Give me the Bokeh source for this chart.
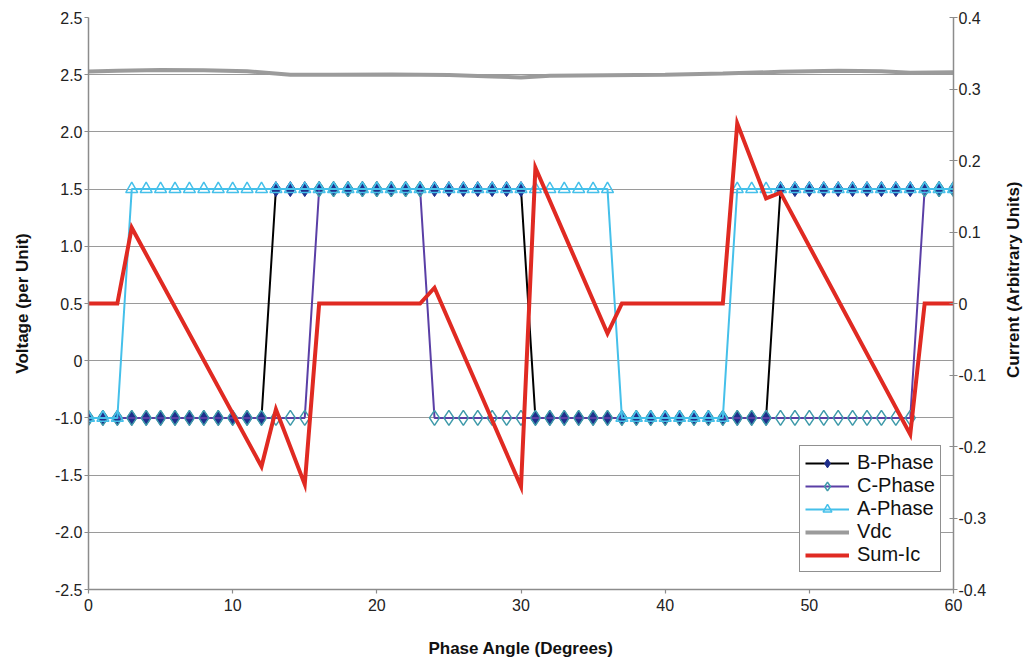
import math
from bokeh.plotting import figure
from bokeh.layouts import row
from bokeh.models import (Range1d, LinearAxis, FixedTicker, Legend, LegendItem, Label)
from bokeh.embed import file_html
from bokeh.resources import INLINE

# ---------------- data ----------------
angle = list(range(61))  # degrees

B_phase = [-1, -1, -1, -1, -1, -1, -1, -1, -1, -1,
           -1, -1, -1, 1, 1, 1, 1, 1, 1, 1,
           1, 1, 1, 1, 1, 1, 1, 1, 1, 1,
           1, -1, -1, -1, -1, -1, -1, -1, -1, -1,
           -1, -1, -1, -1, -1, -1, -1, -1, 1, 1,
           1, 1, 1, 1, 1, 1, 1, 1, 1, 1,
           1]
C_phase = [-1, -1, -1, -1, -1, -1, -1, -1, -1, -1,
           -1, -1, -1, -1, -1, -1, 1, 1, 1, 1,
           1, 1, 1, 1, -1, -1, -1, -1, -1, -1,
           -1, -1, -1, -1, -1, -1, -1, -1, -1, -1,
           -1, -1, -1, -1, -1, -1, -1, -1, -1, -1,
           -1, -1, -1, -1, -1, -1, -1, -1, 1, 1,
           1]
A_phase = [-1, -1, -1, 1, 1, 1, 1, 1, 1, 1,
           1, 1, 1, 1, 1, 1, 1, 1, 1, 1,
           1, 1, 1, 1, 1, 1, 1, 1, 1, 1,
           1, 1, 1, 1, 1, 1, 1, -1, -1, -1,
           -1, -1, -1, -1, -1, 1, 1, 1, 1, 1,
           1, 1, 1, 1, 1, 1, 1, 1, 1, 1,
           1]

vdc_angle = [0, 2, 5, 8, 11, 14, 17, 21, 25, 28, 30, 32, 36, 40, 44, 48, 52, 55, 57, 60]
vdc = [2.028, 2.035, 2.040, 2.038, 2.030, 2.000, 2.000, 2.002, 1.998, 1.985,
       1.976, 1.990, 1.995, 2.000, 2.010, 2.025, 2.034, 2.030, 2.017, 2.022]

ic_angle = [0, 2, 3, 12, 13, 15, 16, 23, 24, 30, 31, 36, 37, 44, 45, 47, 48, 57, 58, 60]
sum_ic = [0, 0, 0.106, -0.228, -0.148, -0.253, 0, 0, 0.022, -0.256,
          0.19, -0.042, 0, 0, 0.252, 0.147, 0.155, -0.183, 0, 0]

x_ticks = [0, 10, 20, 30, 40, 50, 60]
v_ticks = [-2.5, -2.0, -1.5, -1.0, -0.5, 0.0, 0.5, 1.0, 1.5, 2.0, 2.5]
v_tick_labels = ["-2.5", "-2.0", "-1.5", "-1.0", "0", "0.5", "1.0", "1.5", "2.0", "2.5", "2.5"]
i_ticks = [-0.4, -0.3, -0.2, -0.1, 0.0, 0.1, 0.2, 0.3, 0.4]
i_tick_labels = ["-0.4", "-0.3", "-0.2", "-0.1", "0", "0.1", "0.2", "0.3", "0.4"]

# ---------------- figure ----------------
FONT = "Liberation Sans"
AX = "#8c8c8c"
W_MAIN, W_SIDE, H = 1000, 26, 661
BL, BR, BT, BB = 88, 47, 17, 72

p = figure(width=W_MAIN, height=H, output_backend="svg", toolbar_location=None,
           x_range=Range1d(0, 60), y_range=Range1d(-2.5, 2.5),
           min_border_left=BL, min_border_right=BR, min_border_top=BT, min_border_bottom=BB)
p.extra_y_ranges = {"cur": Range1d(-0.4, 0.4)}
p.outline_line_color = None
p.background_fill_color = "white"
p.border_fill_color = "white"

p.xgrid.grid_line_color = None
p.ygrid.ticker = FixedTicker(ticks=v_ticks)
p.ygrid.grid_line_color = "#9a9a9a"
p.ygrid.grid_line_width = 1

xa = p.xaxis[0]
xa.ticker = FixedTicker(ticks=x_ticks)
xa.axis_label = "Phase Angle (Degrees)"
ya = p.yaxis[0]
ya.ticker = FixedTicker(ticks=v_ticks)
ya.major_label_overrides = {t: l for t, l in zip(v_ticks, v_tick_labels)}
ya.axis_label = "Voltage (per Unit)"

ra = LinearAxis(y_range_name="cur", ticker=FixedTicker(ticks=i_ticks))
ra.major_label_overrides = {t: l for t, l in zip(i_ticks, i_tick_labels)}
p.add_layout(ra, "right")

for ax in (xa, ya, ra):
    ax.axis_line_color = AX
    ax.axis_line_width = 1.5
    ax.major_tick_line_color = AX
    ax.major_tick_line_width = 1.2
    ax.minor_tick_line_color = None
    ax.major_tick_out = 4
    ax.major_tick_in = 0
    ax.major_label_text_font = FONT
    ax.major_label_text_font_size = "16px"
    ax.major_label_text_color = "#222222"
    ax.axis_label_text_font = FONT
    ax.axis_label_text_font_size = "17px"
    ax.axis_label_text_font_style = "bold"
    ax.axis_label_text_color = "#111111"

xa.major_label_standoff = 5
xa.axis_label_standoff = 25
ya.major_label_standoff = 2
ya.axis_label_standoff = 20
ra.major_tick_in = 4
ra.major_label_standoff = 1

# ---------------- series ----------------
b_line = p.line(angle, B_phase, line_color="black", line_width=2)
b_pts = p.scatter(angle, B_phase, marker="diamond", size=15,
                  fill_color="#1f2e8c", line_color="#1f2e8c", line_width=1)

c_line = p.line(angle, C_phase, line_color="#5a3fa6", line_width=2)
c_pts = p.scatter(angle, C_phase, marker="diamond", size=15,
                  fill_alpha=0, line_color="#3f9aaa", line_width=1.5)

a_line = p.line(angle, A_phase, line_color="#45c0ea", line_width=2)
a_pts = p.scatter(angle, A_phase, marker="triangle", size=12,
                  fill_alpha=0, line_color="#45c0ea", line_width=1.5)

v_line = p.line(vdc_angle, vdc, line_color="#9b9b9b", line_width=4)

i_line = p.line(ic_angle, sum_ic, y_range_name="cur", line_color="#e02a22",
                line_width=4, line_join="miter")

legend = Legend(items=[
    LegendItem(label="B-Phase", renderers=[b_line, b_pts]),
    LegendItem(label="C-Phase", renderers=[c_line, c_pts]),
    LegendItem(label="A-Phase", renderers=[a_line, a_pts]),
    LegendItem(label="Vdc", renderers=[v_line]),
    LegendItem(label="Sum-Ic", renderers=[i_line]),
])
legend.location = (711, 17)
legend.border_line_color = "#222222"
legend.border_line_width = 1.5
legend.background_fill_color = "white"
legend.background_fill_alpha = 1
legend.label_text_font = FONT
legend.label_text_font_size = "20px"
legend.label_text_color = "#111111"
legend.glyph_width = 44
legend.glyph_height = 22
legend.label_height = 22
legend.label_standoff = 8
legend.padding = 5
legend.spacing = 0
legend.margin = 0
p.add_layout(legend)

# ---------------- right-hand axis title (reads bottom to top) ----------------
side = figure(width=W_SIDE, height=H, output_backend="svg", toolbar_location=None,
              x_range=Range1d(0, W_SIDE), y_range=Range1d(0, H),
              x_axis_type=None, y_axis_type=None,
              min_border_left=0, min_border_right=0, min_border_top=0, min_border_bottom=0)
side.outline_line_color = None
side.grid.grid_line_color = None
side.background_fill_color = "white"
side.border_fill_color = "white"
side.add_layout(Label(x=W_SIDE / 2, y=H - (BT + (H - BT - BB) / 2),
                      text="Current (Arbitrary Units)", angle=math.pi / 2,
                      text_align="center", text_baseline="middle", text_font=FONT,
                      text_font_size="17px", text_font_style="bold", text_color="#111111"))

layout = row(p, side)
open("out.html", "w").write(file_html(layout, INLINE))
